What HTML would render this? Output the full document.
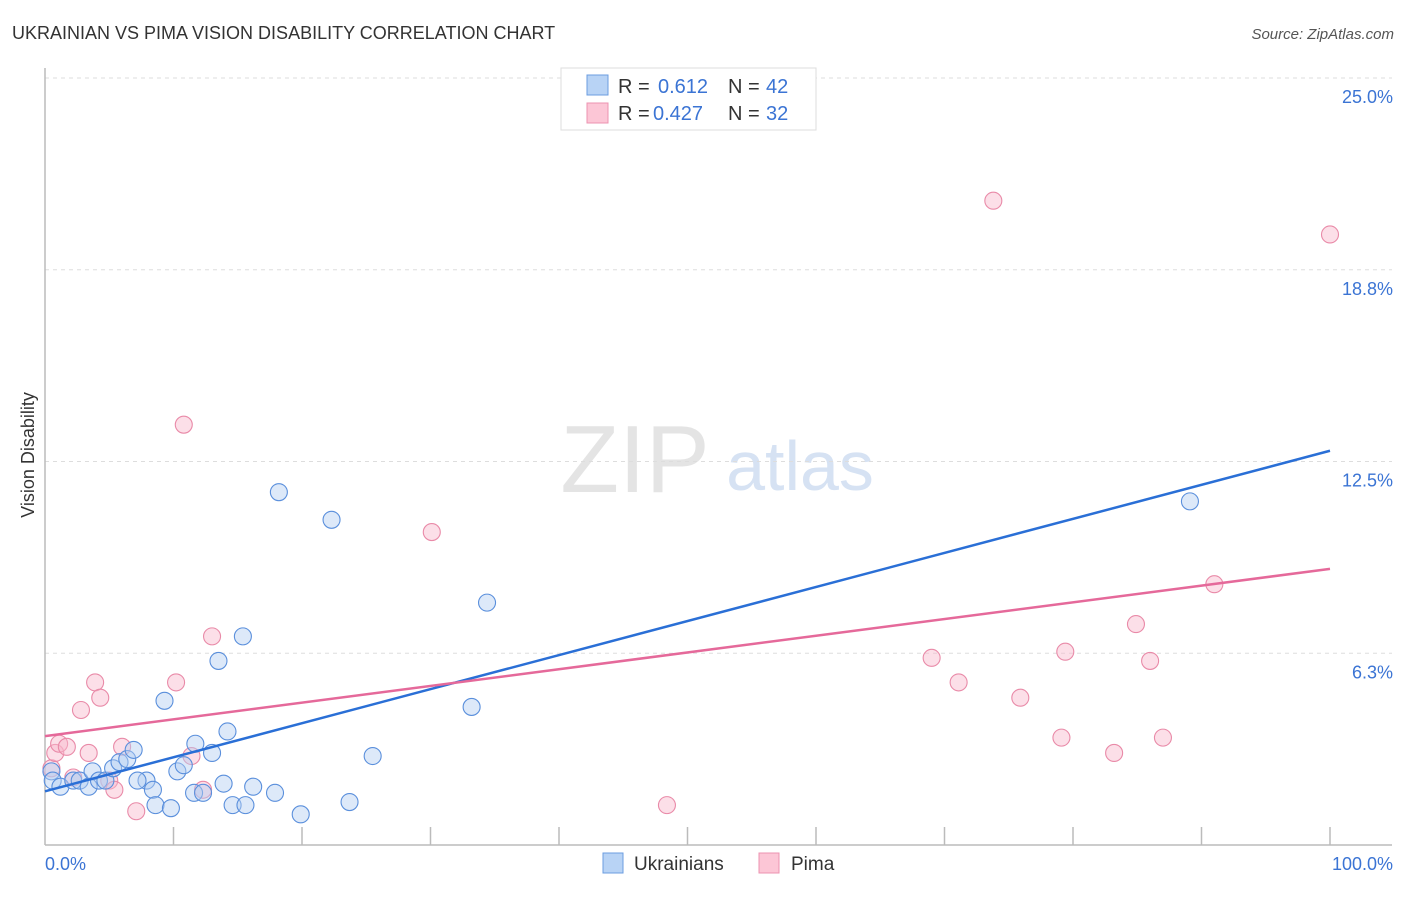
<!DOCTYPE html>
<html><head><meta charset="utf-8"><style>
body{margin:0;background:#fff;font-family:"Liberation Sans",sans-serif;}
svg text{font-family:"Liberation Sans",sans-serif;}
</style></head><body>
<svg width="1406" height="892" xmlns="http://www.w3.org/2000/svg" id="chart">
<text x="12" y="39" font-size="18" fill="#333">UKRAINIAN VS PIMA VISION DISABILITY CORRELATION CHART</text>
<text x="1394" y="39" font-size="15" fill="#555" font-style="italic" text-anchor="end">Source: ZipAtlas.com</text>
<text x="635" y="492" font-size="96" fill="#e4e4e4" font-family="Liberation Serif" text-anchor="middle">ZIP</text>
<text x="800" y="490" font-size="70" fill="#d6e2f3" text-anchor="middle">atlas</text>
<text x="34" y="455" font-size="18" fill="#333" text-anchor="middle" transform="rotate(-90 34 455)">Vision Disability</text>
<g id="grid"></g><g id="marks"></g>
<g>
<rect x="561" y="68" width="255" height="62" fill="#fff" stroke="#ddd"/>
<rect x="587" y="75" width="21" height="20" fill="#b8d3f5" stroke="#6b9de0"/>
<rect x="587" y="103" width="21" height="20" fill="#fcc6d6" stroke="#ec93b0"/>
<text x="618" y="93" font-size="20" fill="#333">R = </text><text x="658" y="93" font-size="20" fill="#3b74d4">0.612</text>
<text x="728" y="93" font-size="20" fill="#333">N = </text><text x="766" y="93" font-size="20" fill="#3b74d4">42</text>
<text x="618" y="120" font-size="20" fill="#333">R = </text><text x="653" y="120" font-size="20" fill="#3b74d4">0.427</text>
<text x="728" y="120" font-size="20" fill="#333">N = </text><text x="766" y="120" font-size="20" fill="#3b74d4">32</text>
</g>
<g>
<rect x="603" y="853" width="20" height="20" fill="#b8d3f5" stroke="#6b9de0"/>
<text x="634" y="870" font-size="19" fill="#333">Ukrainians</text>
<rect x="759" y="853" width="20" height="20" fill="#fcc6d6" stroke="#ec93b0"/>
<text x="791" y="870" font-size="19" fill="#333">Pima</text>
</g>
<text x="45" y="870" font-size="18" fill="#3b74d4">0.0%</text>
<text x="1393" y="870" font-size="18" fill="#3b74d4" text-anchor="end">100.0%</text>
</svg>
<script>
const yTicks=[6.25,12.5,18.75,25];
const yTickLabels=["6.3%","12.5%","18.8%","25.0%"];
const ukrX=[0.5,0.6,1.2,2.2,2.7,3.4,3.7,4.2,4.7,5.3,5.8,6.4,6.9,7.9,7.2,8.4,8.6,9.8,9.3,10.3,10.8,11.7,13.0,11.6,12.3,13.5,14.2,13.9,14.6,15.6,16.2,17.9,19.9,23.7,25.5,15.4,18.2,22.3,34.4,33.2,89.1];
const ukrY=[2.4,2.1,1.9,2.1,2.1,1.9,2.4,2.1,2.1,2.5,2.7,2.8,3.1,2.1,2.1,1.8,1.3,1.2,4.7,2.4,2.6,3.3,3.0,1.7,1.7,6.0,3.7,2.0,1.3,1.3,1.9,1.7,1.0,1.4,2.9,6.8,11.5,10.6,7.9,4.5,11.2];
const pimaX=[0.5,0.8,1.1,1.7,2.2,3.4,2.8,3.9,4.3,5.0,5.4,6.0,7.1,10.2,11.4,12.3,13.0,10.8,30.1,48.4,69.0,71.1,73.8,75.9,79.1,79.4,83.2,84.9,86.0,87.0,91.0,100.0];
const pimaY=[2.5,3.0,3.3,3.2,2.2,3.0,4.4,5.3,4.8,2.1,1.8,3.2,1.1,5.3,2.9,1.8,6.8,13.7,10.2,1.3,6.1,5.3,21.0,4.8,3.5,6.3,3.0,7.2,6.0,3.5,8.5,19.9];
const trendX=[0,100];
const ukrTrend=[1.75,12.85];
const pimaTrend=[3.55,9.0];
const X0=45,X1=1330,Y0=845,Y25=78;
const xs=v=>X0+v/100*(X1-X0);
const ys=v=>Y0-v/25*(Y0-Y25);
const NS="http://www.w3.org/2000/svg";
const grid=document.getElementById('grid'),marks=document.getElementById('marks');
function mk(tag,at,p){const e=document.createElementNS(NS,tag);for(const k in at)e.setAttribute(k,at[k]);p.appendChild(e);return e;}
yTicks.forEach((t,i)=>{
 const l=mk('line',{x1:X0,x2:1392,y1:ys(t),y2:ys(t),stroke:'#ddd','stroke-dasharray':'4,4'},grid);
 
 
 const tx=mk('text',{x:1393,y:ys(t)+25,'font-size':18,fill:'#3b74d4','text-anchor':'end'},grid);
 tx.textContent=yTickLabels[i];
 
 
});
const ax=mk('line',{x1:X0,x2:X0,y1:68,y2:Y0,stroke:'#bbb','stroke-width':1.5},grid);


const bx=mk('line',{x1:X0,x2:1392,y1:Y0,y2:Y0,stroke:'#bbb','stroke-width':1.5},grid);


for(let i=1;i<=10;i++){const t=mk('line',{x1:xs(i*10),x2:xs(i*10),y1:827,y2:Y0,stroke:'#bbb','stroke-width':1.5},grid);
 
 }
function pts(X,Y,fill,stroke,name){X.forEach((x,i)=>{const c=mk('circle',{cx:xs(x),cy:ys(Y[i]),r:8.5,fill:fill,'fill-opacity':0.45,stroke:stroke,'stroke-width':1.1},marks);
 
 });}
pts(pimaX,pimaY,'#f8b8cc','#e98aa8','pima-point');
pts(ukrX,ukrY,'#b3cff2','#5a8fdc','ukrainian-point');
const l1=mk('line',{x1:xs(trendX[0]),y1:ys(ukrTrend[0]),x2:xs(trendX[1]),y2:ys(ukrTrend[1]),stroke:'#2a6fd6','stroke-width':2.5},marks);


const l2=mk('line',{x1:xs(trendX[0]),y1:ys(pimaTrend[0]),x2:xs(trendX[1]),y2:ys(pimaTrend[1]),stroke:'#e5699a','stroke-width':2.5},marks);


</script>
</body></html>
